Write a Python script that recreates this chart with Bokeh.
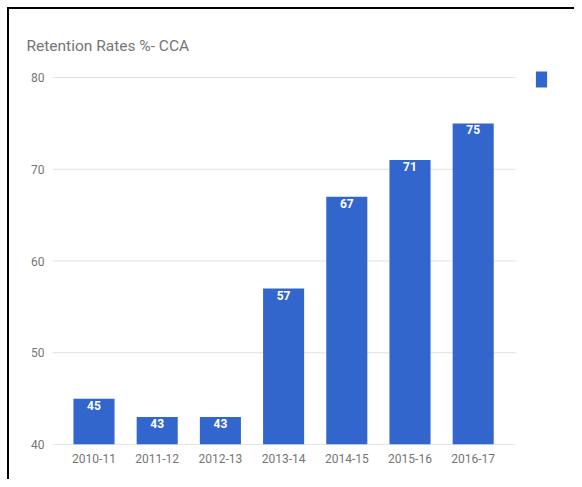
from bokeh.plotting import figure
from bokeh.models import (ColumnDataSource, Range1d, FixedTicker,
                          LabelSet, Legend, LegendItem)
from bokeh.core.properties import value
from bokeh.embed import file_html
from bokeh.resources import INLINE

categories = ["2010-11", "2011-12", "2012-13", "2013-14", "2014-15", "2015-16", "2016-17"]
retention = [45, 43, 43, 57, 67, 71, 75]
y_ticks = [40, 50, 60, 70, 80]
title_text = "Retention Rates %- CCA"
series_name = " "

BAR = "#3366cc"
GRAY = "#757575"
FONT = "Roboto"

# layout (pixels)
W, H = 574, 479
FRAME_L, FRAME_R, FRAME_T, FRAME_B = 52, 562, 60, 444
AREA_R = 515                    # right end of gridlines / chart area
PX_PER_Y = (444 - 77) / (y_ticks[-1] - y_ticks[0])
PX_PER_X = 63.2
x_start = -(93.5 - FRAME_L) / PX_PER_X
x_area_end = x_start + (AREA_R - FRAME_L) / PX_PER_X
x_end = x_start + (FRAME_R - FRAME_L) / PX_PER_X
y_end = y_ticks[0] + (FRAME_B - FRAME_T) / PX_PER_Y

xs = list(range(len(categories)))
src = ColumnDataSource(dict(x=xs, val=retention,
                            lbl=[str(v) for v in retention]))
grid_src = ColumnDataSource(dict(
    y=y_ticks, x0=[x_start] * len(y_ticks), x1=[x_area_end] * len(y_ticks),
    color=["#cccccc"] + ["#e0e0e0"] * (len(y_ticks) - 1)))

p = figure(x_range=Range1d(x_start, x_end),
           y_range=Range1d(y_ticks[0], y_end),
           width=W, height=H,
           min_border_left=FRAME_L, min_border_right=W - FRAME_R,
           min_border_top=FRAME_T, min_border_bottom=H - FRAME_B,
           output_backend="svg", toolbar_location=None)

# outer frame line of the screenshot (top and left edges)
p.styles = {"box-shadow": "inset 7px 7px 0 0 #ffffff, inset 9px 9px 0 0 #000000"}

p.segment(x0="x0", x1="x1", y0="y", y1="y", line_color="color",
          line_width=1, source=grid_src)

r = p.vbar(x="x", top="val", bottom=y_ticks[0], width=0.65, source=src,
           fill_color=BAR, line_color=None)

p.add_layout(LabelSet(x="x", y="val", text="lbl", source=src,
                      y_offset=-2, text_baseline="top", text_align="center",
                      text_color="white", text_font_size="12px",
                      text_font_style="bold", text_font=value(FONT)))

p.title.text = title_text
p.title.align = "left"
p.title.offset = -26
p.title.standoff = 11
p.title.text_font = FONT
p.title.text_font_size = "15.5px"
p.title.text_font_style = "normal"
p.title.text_color = GRAY

p.outline_line_color = None
p.background_fill_color = None
p.border_fill_color = None
p.xgrid.grid_line_color = None
p.ygrid.grid_line_color = None

p.yaxis.ticker = FixedTicker(ticks=y_ticks)
p.yaxis.axis_line_color = None
p.yaxis.major_tick_line_color = None
p.yaxis.minor_tick_line_color = None
p.yaxis.major_tick_out = 0
p.yaxis.minor_tick_out = 0
p.yaxis.major_label_standoff = 8
p.yaxis.major_label_text_font = FONT
p.yaxis.major_label_text_font_size = "12px"
p.yaxis.major_label_text_color = GRAY

p.xaxis.ticker = FixedTicker(ticks=xs)
p.xaxis.major_label_overrides = {i: c for i, c in zip(xs, categories)}
p.xaxis.axis_line_color = None
p.xaxis.major_tick_line_color = None
p.xaxis.minor_tick_line_color = None
p.xaxis.major_tick_out = 0
p.xaxis.minor_tick_out = 0
p.xaxis.major_label_standoff = 9
p.xaxis.major_label_text_font = FONT
p.xaxis.major_label_text_font_size = "12px"
p.xaxis.major_label_text_color = GRAY

legend = Legend(items=[LegendItem(label=series_name, renderers=[r])],
                location=(482, 355), glyph_width=14, glyph_height=20,
                padding=0, margin=0, spacing=0, label_standoff=0,
                label_width=1, label_height=1,
                label_text_font_size="1px", border_line_color=None,
                background_fill_alpha=0)
p.add_layout(legend)

open("out.html", "w").write(file_html(p, INLINE))
